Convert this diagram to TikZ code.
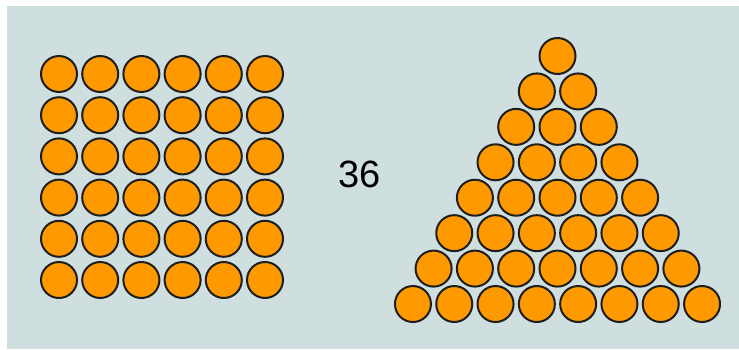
\documentclass[tikz,border=0pt]{standalone}
\usepackage{fontspec}
\setmainfont{Liberation Sans}
\usepackage{tikz}
\usetikzlibrary{positioning}
\definecolor{mybg}{RGB}{207,222,222}
\definecolor{myorange}{RGB}{255,153,0}
\definecolor{myedge}{RGB}{30,30,30}

\begin{document}
\begin{tikzpicture}[x=1pt, y=-1pt]
    \tikzstyle{ball}=[circle, draw=myedge, line width=2pt, fill=myorange, minimum size=36pt, inner sep=0pt]
    \useasboundingbox (0,0) rectangle (739,349);
    \fill[mybg] (7,6) rectangle (739,349);
    % square 6 x 6
    \foreach \i in {0,...,5}
      \foreach \j in {0,...,5}
        \node[ball] (sq-\i-\j) at ({59+41.2*\i},{74+41.2*\j}) {};
    % triangle with 8 rows
    \foreach \r in {0,...,7}
      \foreach \k in {0,...,\r}
        \node[ball] (tri-\r-\k) at ({557.5-20.65*\r+41.3*\k},{56+35.43*\r}) {};
    \node[font=\fontsize{38}{40}\selectfont] (num) at (359.5,174) {36};
  \end{tikzpicture}
\end{document}
